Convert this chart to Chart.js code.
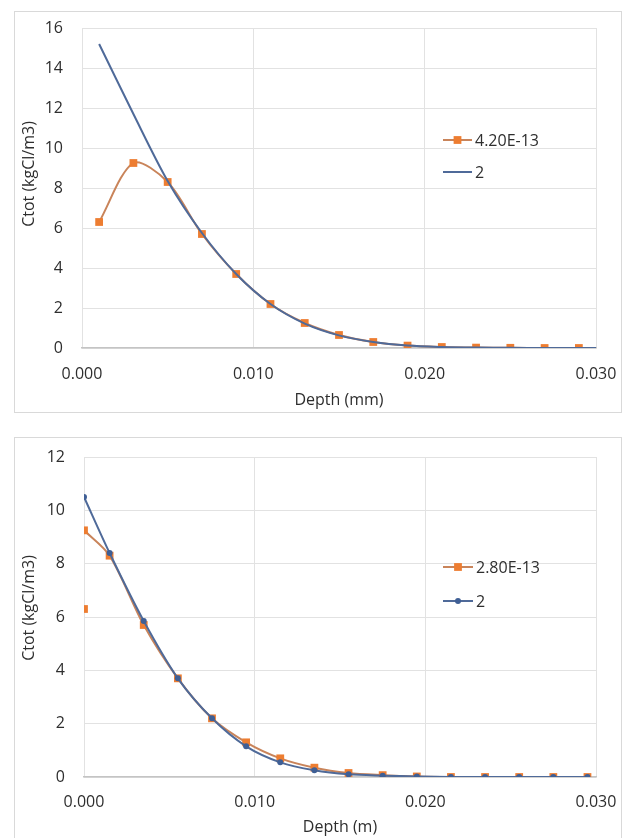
<!DOCTYPE html>
<html>
<head>
<meta charset="utf-8">
<script src="https://cdn.jsdelivr.net/npm/chart.js@4.4.1/dist/chart.umd.min.js"></script>
<style>
    body { margin: 0; background: #fff; width: 624px; height: 838px; overflow: hidden; position: relative; }
    .frame { position: absolute; left: 14px; width: 606px; border: 1px solid #d9d9d9; background: #fff; }
    #frameTop { top: 11px; height: 400px; }
    #frameBottom { top: 437px; height: 410px; }
    canvas { display: block; }
</style>
</head>
<body>
<div class="frame" id="frameTop"><canvas id="chartTop" width="606" height="400"></canvas></div>
<div class="frame" id="frameBottom"><canvas id="chartBottom" width="606" height="400"></canvas></div>
<script>
// Top chart: Depth (mm)
const topLabels = ['4.20E-13', '2'];
const topOrangeDepth = [0.001, 0.003, 0.005, 0.007, 0.009, 0.011, 0.013, 0.015, 0.017, 0.019, 0.021, 0.023, 0.025, 0.027, 0.029];
const topOrange = [6.3, 9.25, 8.3, 5.7, 3.7, 2.2, 1.25, 0.65, 0.3, 0.12, 0.05, 0.02, 0.01, 0.0, 0.0];
const topBlueDepth = [0.001, 0.003, 0.005, 0.007, 0.009, 0.011, 0.013, 0.015, 0.017, 0.019, 0.021, 0.023, 0.025, 0.027, 0.029, 0.030];
const topBlue = [15.2, 11.7, 8.35, 5.75, 3.7, 2.2, 1.22, 0.63, 0.3, 0.12, 0.05, 0.02, 0.01, 0.0, 0.0, 0.0];
const topYTicks = [0, 2, 4, 6, 8, 10, 12, 14, 16];

// Bottom chart: Depth (m)
const bottomLabels = ['2.80E-13', '2'];
const bottomOrangeDepth = [0, 0, 0, 0.0015, 0.0035, 0.0055, 0.0075, 0.0095, 0.0115, 0.0135, 0.0155, 0.0175, 0.0195, 0.0215, 0.0235, 0.0255, 0.0275, 0.0295];
const bottomOrange = [6.3, null, 9.25, 8.3, 5.7, 3.7, 2.2, 1.3, 0.7, 0.35, 0.15, 0.07, 0.02, 0.0, 0.0, 0.0, 0.0, 0.0];
const bottomBlueDepth = [0, 0.0015, 0.0035, 0.0055, 0.0075, 0.0095, 0.0115, 0.0135, 0.0155, 0.0175, 0.0195, 0.0215, 0.0235, 0.0255, 0.0275, 0.0295];
const bottomBlue = [10.5, 8.4, 5.85, 3.7, 2.2, 1.15, 0.55, 0.25, 0.1, 0.05, 0.02, 0.0, 0.0, 0.0, 0.0, 0.0];
const bottomYTicks = [0, 2, 4, 6, 8, 10, 12];

const xTicks = [0, 0.01, 0.02, 0.03];
const yTitle = 'Ctot (kgCl/m3)';

const ORANGE = '#ED7D31';
const ORANGE_LINE = '#c9845a';
const BLUE = '#4f6a99';
const TEXT = '#2e2e2e';
const FONT = "'Open Sans', sans-serif";
const FONT_SIZE = 16;

const toPoints = (xs, ys) => xs.map((x, i) => ({ x: x, y: ys[i] }));

// Legend drawn inside the plot, like the Excel one
const inlineLegend = {
    id: 'inlineLegend',
    afterDatasetsDraw(chart, args, opts) {
        const ctx = chart.ctx;
        ctx.save();
        opts.order.forEach((dsIndex, row) => {
            const ds = chart.data.datasets[dsIndex];
            const y = opts.y + row * opts.rowGap;
            const mid = opts.x + opts.lineLength / 2;
            ctx.strokeStyle = ds.borderColor;
            ctx.lineWidth = ds.borderWidth;
            ctx.beginPath();
            ctx.moveTo(opts.x, y);
            ctx.lineTo(opts.x + opts.lineLength, y);
            ctx.stroke();
            if (ds.pointRadius > 0) {
                ctx.fillStyle = ds.pointBackgroundColor;
                const r = ds.pointRadius;
                if (ds.pointStyle === 'rect') {
                    const s = r * Math.SQRT1_2;
                    ctx.fillRect(mid - s, y - s, 2 * s, 2 * s);
                } else {
                    ctx.beginPath();
                    ctx.arc(mid, y, r, 0, Math.PI * 2);
                    ctx.fill();
                }
            }
            ctx.fillStyle = TEXT;
            ctx.font = `${FONT_SIZE}px ${FONT}`;
            ctx.textBaseline = 'middle';
            ctx.textAlign = 'left';
            ctx.fillText(ds.label, opts.x + opts.lineLength + 3, y + 1);
        });
        ctx.restore();
    }
};

// Rotated y title, placed where Excel put it
const yAxisTitle = {
    id: 'yAxisTitle',
    afterDraw(chart, args, opts) {
        const ctx = chart.ctx;
        ctx.save();
        ctx.translate(opts.x, opts.y);
        ctx.rotate(-Math.PI / 2);
        ctx.fillStyle = TEXT;
        ctx.font = `${FONT_SIZE}px ${FONT}`;
        ctx.textAlign = 'center';
        ctx.textBaseline = 'middle';
        ctx.fillText(opts.text, 0, 0);
        ctx.restore();
    }
};

function buildChart(canvasId, cfg) {
    const ctx = document.getElementById(canvasId);
    return new Chart(ctx, {
        type: 'line',
        data: { datasets: cfg.datasets },
        options: {
            responsive: false,
            animation: false,
            layout: { padding: { top: cfg.areaTop, right: cfg.areaRight, left: 0, bottom: 0 } },
            plugins: {
                legend: { display: false },
                tooltip: { enabled: false },
                inlineLegend: cfg.legend,
                yAxisTitle: cfg.yTitle
            },
            scales: {
                x: {
                    type: 'linear',
                    min: 0,
                    max: 0.03,
                    afterBuildTicks: (scale) => { scale.ticks = xTicks.map(v => ({ value: v })); },
                    afterFit: (scale) => {
                        scale.height = cfg.bottomSpace;
                        scale.paddingLeft = 0;
                        scale.paddingRight = 0;
                    },
                    grid: { color: '#e2e2e2', lineWidth: 1, drawTicks: false },
                    border: { color: '#c4c4c4', width: 1.5 },
                    ticks: {
                        padding: cfg.xTickPad,
                        color: TEXT,
                        font: { family: FONT, size: FONT_SIZE },
                        callback: (v) => Number(v).toFixed(3)
                    },
                    title: {
                        display: true,
                        text: cfg.xTitle,
                        color: TEXT,
                        font: { family: FONT, size: FONT_SIZE },
                        padding: { top: 0, bottom: cfg.xTitlePad }
                    }
                },
                y: {
                    min: 0,
                    max: cfg.yTicks[cfg.yTicks.length - 1],
                    afterBuildTicks: (scale) => { scale.ticks = cfg.yTicks.map(v => ({ value: v })); },
                    afterFit: (scale) => {
                        scale.width = cfg.areaLeft;
                        scale.paddingTop = 0;
                        scale.paddingBottom = 0;
                    },
                    grid: { color: '#e2e2e2', lineWidth: 1, drawTicks: false },
                    border: { display: false },
                    ticks: {
                        padding: 19,
                        color: TEXT,
                        font: { family: FONT, size: FONT_SIZE }
                    }
                }
            }
        },
        plugins: [inlineLegend, yAxisTitle]
    });
}

buildChart('chartTop', {
    datasets: [
        {
            label: topLabels[0],
            data: toPoints(topOrangeDepth, topOrange),
            borderColor: ORANGE_LINE,
            borderWidth: 2,
            pointStyle: 'rect',
            pointRadius: 5.5,
            pointBackgroundColor: ORANGE,
            pointBorderWidth: 0,
            tension: 0.3,
            order: 1
        },
        {
            label: topLabels[1],
            data: toPoints(topBlueDepth, topBlue),
            borderColor: BLUE,
            borderWidth: 2,
            pointRadius: 0,
            tension: 0.3,
            order: 0
        }
    ],
    yTicks: topYTicks,
    xTitle: 'Depth (mm)',
    yTitle: { text: yTitle, x: 14, y: 162 },
    areaLeft: 67,
    areaTop: 16,
    areaRight: 25,
    bottomSpace: 64,
    xTickPad: 17,
    xTitlePad: 2,
    legend: { order: [0, 1], x: 428, y: 128, rowGap: 32, lineLength: 29 }
});

buildChart('chartBottom', {
    datasets: [
        {
            label: bottomLabels[0],
            data: toPoints(bottomOrangeDepth, bottomOrange),
            borderColor: ORANGE_LINE,
            borderWidth: 2,
            pointStyle: 'rect',
            pointRadius: 5.5,
            pointBackgroundColor: ORANGE,
            pointBorderWidth: 0,
            tension: 0.3,
            spanGaps: false,
            order: 1
        },
        {
            label: bottomLabels[1],
            data: toPoints(bottomBlueDepth, bottomBlue),
            borderColor: BLUE,
            borderWidth: 2,
            pointStyle: 'circle',
            pointRadius: 3,
            pointBackgroundColor: '#3f5f95',
            pointBorderWidth: 0,
            tension: 0.3,
            order: 0
        }
    ],
    yTicks: bottomYTicks,
    xTitle: 'Depth (m)',
    yTitle: { text: yTitle, x: 14, y: 170 },
    areaLeft: 69,
    areaTop: 19,
    areaRight: 25,
    bottomSpace: 61,
    xTickPad: 16,
    xTitlePad: 1,
    legend: { order: [0, 1], x: 428, y: 129, rowGap: 34, lineLength: 30 }
});
</script>
</body>
</html>
